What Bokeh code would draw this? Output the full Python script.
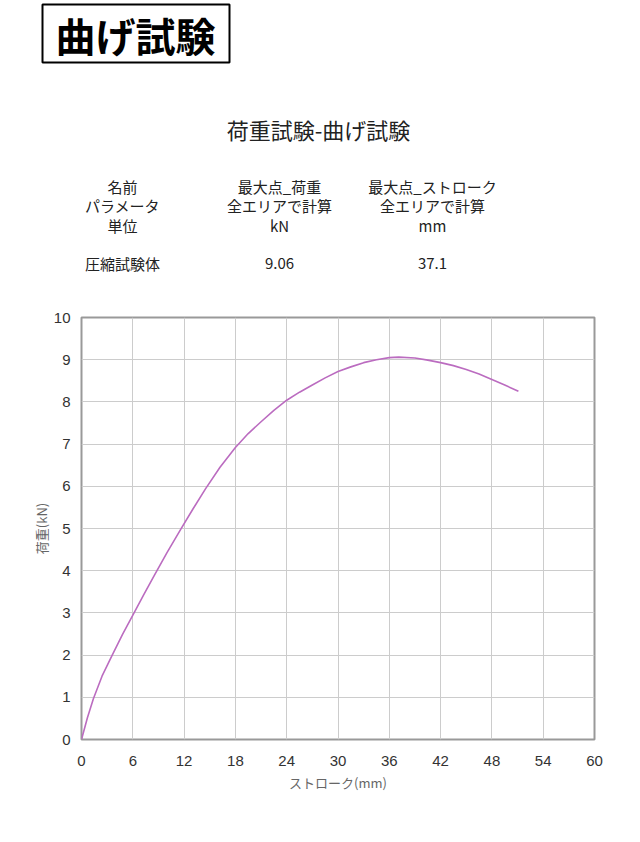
from bokeh.plotting import figure
from bokeh.layouts import column
from bokeh.models import Range1d, FixedTicker
from bokeh.core.properties import value
from bokeh.embed import file_html
from bokeh.resources import INLINE

# data
stroke_mm = [0, 0.7, 1.4, 2.4, 3.55, 4.8, 6.1, 7.3, 8.55, 10, 11.6, 13, 14.5, 16.2, 18,
             19.5, 21, 22.5, 24, 25.5, 27, 28.5, 30, 31.5, 33, 34.5, 36, 37.1,
             39, 40.5, 42, 43.5, 45, 46.5, 48, 49.5, 51.1]
load_kN = [0, 0.52, 0.97, 1.5, 1.98, 2.49, 2.98, 3.44, 3.9, 4.43, 4.98, 5.45, 5.94, 6.45, 6.92,
           7.25, 7.53, 7.8, 8.04, 8.23, 8.4, 8.57, 8.72, 8.83, 8.93, 9.0, 9.05, 9.06,
           9.04, 8.99, 8.93, 8.86, 8.77, 8.66, 8.53, 8.4, 8.25]
x_ticks = [0, 6, 12, 18, 24, 30, 36, 42, 48, 54, 60]
y_ticks = [0, 1, 2, 3, 4, 5, 6, 7, 8, 9, 10]

header_badge = "曲げ試験"
chart_title = "荷重試験-曲げ試験"
table_rows = [
    ["名前", "最大点_荷重", "最大点_ストローク"],
    ["パラメータ", "全エリアで計算", "全エリアで計算"],
    ["単位", "kN", "mm"],
    ["圧縮試験体", "9.06", "37.1"],
]

W = 640
HEAD_H = 305
CHART_H = 842 - HEAD_H
FONT = "Noto Sans CJK JP"

# ---- header figure (text only) ----
h = figure(width=W, height=HEAD_H, output_backend="svg", toolbar_location=None,
           x_range=Range1d(0, W), y_range=Range1d(HEAD_H, 0),
           min_border=0, min_border_left=0, min_border_right=0,
           min_border_top=0, min_border_bottom=0)
h.frame_align = False
h.axis.visible = False
h.grid.visible = False
h.outline_line_color = None
h.background_fill_color = "white"
h.border_fill_color = "white"

# badge box
h.rect(x=[135.5], y=[33], width=[187], height=[58], fill_color="white",
       line_color="black", line_width=2)
h.text(x=[135], y=[34], text=[header_badge], text_font=value(FONT),
       text_font_size="40px", text_font_style="bold", text_color="black",
       text_align="center", text_baseline="middle")
h.text(x=[318], y=[128], text=[chart_title], text_font=value(FONT),
       text_font_size="22px", text_color="#222222",
       text_align="center", text_baseline="middle")

col_x = [122, 279, 432]
row_y = [186, 205, 225, 263]
xs, ys, ts = [], [], []
for r, row in enumerate(table_rows):
    for c, cell in enumerate(row):
        xs.append(col_x[c]); ys.append(row_y[r]); ts.append(cell)
h.text(x=xs, y=ys, text=ts, text_font=value(FONT), text_font_size="15px",
       text_color="#222222", text_align="center", text_baseline="middle")

# ---- chart figure ----
p = figure(width=W, height=CHART_H, output_backend="svg", toolbar_location=None,
           x_range=Range1d(0, 60), y_range=Range1d(0, 10),
           min_border_left=81, min_border_right=46,
           min_border_top=317 - HEAD_H, min_border_bottom=103)
p.frame_align = False
p.background_fill_color = "white"
p.border_fill_color = "white"
p.outline_line_color = "#999999"
p.outline_line_width = 2

p.line(stroke_mm, load_kN, line_color="#bb6cc0", line_width=1.6)

for ax in (p.xaxis[0], p.yaxis[0]):
    ax.axis_line_color = None
    ax.major_tick_line_color = None
    ax.minor_tick_line_color = None
    ax.major_label_text_font = "Liberation Sans"
    ax.major_label_text_font_size = "15px"
    ax.major_label_text_color = "#333333"
    ax.axis_label_text_font = FONT
    ax.axis_label_text_font_size = "13px"
    ax.axis_label_text_font_style = "normal"
    ax.axis_label_text_color = "#666666"
p.xaxis.ticker = FixedTicker(ticks=x_ticks)
p.yaxis.ticker = FixedTicker(ticks=y_ticks)
p.xaxis.axis_label = "ストローク(mm)"
p.yaxis.axis_label = "荷重(kN)"
p.xaxis.major_label_standoff = 10
p.yaxis.major_label_standoff = 5
p.xaxis.axis_label_standoff = 4
p.yaxis.axis_label_standoff = 0
p.xgrid.ticker = FixedTicker(ticks=x_ticks)
p.ygrid.ticker = FixedTicker(ticks=y_ticks)
p.grid.grid_line_color = "#cccccc"
p.grid.grid_line_width = 1

layout = column(h, p, spacing=0)
open("out.html", "w").write(file_html(layout, INLINE))
